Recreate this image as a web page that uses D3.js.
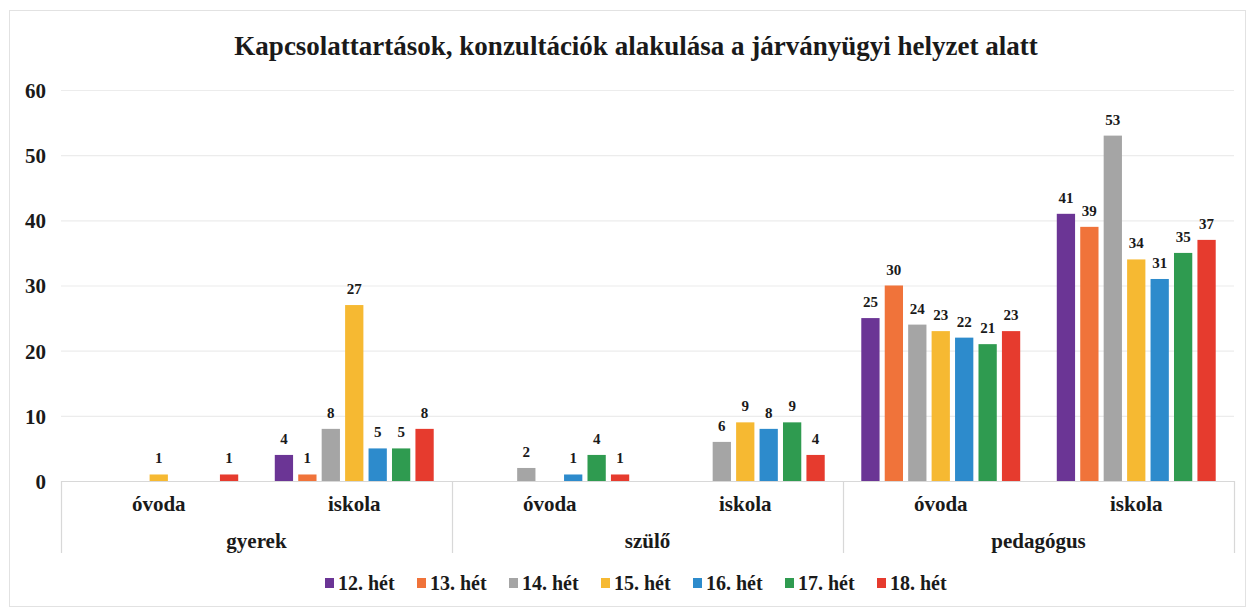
<!DOCTYPE html>
<html>
<head>
<meta charset="utf-8">
<script src="https://cdn.jsdelivr.net/npm/d3@7"></script>
<style>
  body { margin: 0; background: #fff; }
  svg text { font-family: "Liberation Serif", "Times New Roman", Times, serif; font-weight: bold; fill: #1a1a1a; }
</style>
</head>
<body>
<svg width="1248" height="610"></svg>
<script>
// data
const groups = ['gyerek', 'szülő', 'pedagógus'];
const subs = ['óvoda', 'iskola'];
const weeks = ['12. hét', '13. hét', '14. hét', '15. hét', '16. hét', '17. hét', '18. hét'];
const colors = ['#6b3595', '#f0733a', '#a5a5a5', '#f6b932', '#2d8bcc', '#2f9b50', '#e63b2e'];
const yTicks = [0, 10, 20, 30, 40, 50, 60];

// one row per group/sub, one value per week (null = no bar)
const gyerekOvoda = [null, null, null, 1, null, null, 1];
const gyerekIskola = [4, 1, 8, 27, 5, 5, 8];
const szuloOvoda = [null, null, 2, null, 1, 4, 1];
const szuloIskola = [null, null, 6, 9, 8, 9, 4];
const pedOvoda = [25, 30, 24, 23, 22, 21, 23];
const pedIskola = [41, 39, 53, 34, 31, 35, 37];

const rows = [
  { group: 'gyerek', sub: 'óvoda', values: gyerekOvoda },
  { group: 'gyerek', sub: 'iskola', values: gyerekIskola },
  { group: 'szülő', sub: 'óvoda', values: szuloOvoda },
  { group: 'szülő', sub: 'iskola', values: szuloIskola },
  { group: 'pedagógus', sub: 'óvoda', values: pedOvoda },
  { group: 'pedagógus', sub: 'iskola', values: pedIskola },
];
rows.forEach(r => r.key = r.group + '|' + r.sub);

const svg = d3.select('svg');
const margin = { left: 61, right: 14, top: 90, bottom: 129 };
const W = 1248, H = 610;
const plotBottom = H - margin.bottom; // 481

// chart frame
svg.append('rect')
  .attr('x', 9.5).attr('y', 10.5)
  .attr('width', 1236).attr('height', 596)
  .attr('fill', 'none')
  .attr('stroke', '#e2e2e2');

svg.append('text')
  .attr('x', 636).attr('y', 55)
  .attr('text-anchor', 'middle')
  .style('font-size', '27px')
  .text('Kapcsolattartások, konzultációk alakulása a járványügyi helyzet alatt');

const x0 = d3.scaleBand()
  .domain(rows.map(r => r.key))
  .range([margin.left, W - margin.right]);

const x1 = d3.scaleBand()
  .domain(weeks)
  .range([0, x0.bandwidth()])
  .paddingInner(0.22)
  .paddingOuter(0.78);

const y = d3.scaleLinear()
  .domain([0, 60])
  .range([plotBottom, margin.top]);

// gridlines
svg.append('g')
  .selectAll('line')
  .data(yTicks)
  .join('line')
  .attr('x1', margin.left).attr('x2', W - margin.right)
  .attr('y1', d => y(d) + 0.5).attr('y2', d => y(d) + 0.5)
  .attr('stroke', d => d === 0 ? '#d8d8d8' : '#ececec')
  .attr('stroke-width', 1.2);

// y axis labels
const yAxis = svg.append('g')
  .attr('transform', `translate(${margin.left - 15},0)`)
  .call(d3.axisLeft(y).tickValues(yTicks).tickSize(0).tickPadding(0));
yAxis.attr('font-family', null).attr('font-size', null);
yAxis.select('.domain').remove();
yAxis.selectAll('text')
  .style('font-size', '21px')
  .attr('fill', '#1a1a1a')
  .attr('dy', '0.35em');

// bars
const rowG = svg.append('g')
  .selectAll('g')
  .data(rows)
  .join('g')
  .attr('transform', d => `translate(${x0(d.key)},0)`);

const cells = rowG.selectAll('g')
  .data(d => d.values.map((v, i) => ({ week: weeks[i], value: v, color: colors[i] })).filter(c => c.value !== null))
  .join('g');

cells.append('rect')
  .attr('x', d => x1(d.week))
  .attr('width', x1.bandwidth())
  .attr('y', d => y(d.value))
  .attr('height', d => y(0) - y(d.value))
  .attr('fill', d => d.color);

cells.append('text')
  .attr('x', d => x1(d.week) + x1.bandwidth() / 2)
  .attr('y', d => y(d.value) - 11)
  .attr('text-anchor', 'middle')
  .style('font-size', '15px')
  .text(d => d.value);

// category axis: sub labels
svg.append('g')
  .selectAll('text')
  .data(rows)
  .join('text')
  .attr('x', d => x0(d.key) + x0.bandwidth() / 2)
  .attr('y', plotBottom + 30)
  .attr('text-anchor', 'middle')
  .style('font-size', '21px')
  .text(d => d.sub);

// group labels and separators
const groupX = g => {
  const ks = rows.filter(r => r.group === g).map(r => r.key);
  return [x0(ks[0]), x0(ks[ks.length - 1]) + x0.bandwidth()];
};

svg.append('g')
  .selectAll('text')
  .data(groups)
  .join('text')
  .attr('x', d => d3.mean(groupX(d)))
  .attr('y', plotBottom + 67)
  .attr('text-anchor', 'middle')
  .style('font-size', '21px')
  .text(d => d);

const seps = [groupX(groups[0])[0]].concat(groups.map(g => groupX(g)[1]));
svg.append('g')
  .selectAll('line')
  .data(seps)
  .join('line')
  .attr('x1', d => Math.round(d) + 0.5).attr('x2', d => Math.round(d) + 0.5)
  .attr('y1', plotBottom).attr('y2', plotBottom + 72)
  .attr('stroke', '#d8d8d8')
  .attr('stroke-width', 1.2);

// legend
const legend = svg.append('g')
  .attr('transform', 'translate(325,583)');
const item = legend.selectAll('g')
  .data(weeks)
  .join('g')
  .attr('transform', (d, i) => `translate(${i * 92},0)`);
item.append('rect')
  .attr('x', 0).attr('y', -5)
  .attr('width', 9).attr('height', 10)
  .attr('fill', (d, i) => colors[i]);
item.append('text')
  .attr('x', 13).attr('y', 7)
  .style('font-size', '20px')
  .text(d => d);
</script>
</body>
</html>
